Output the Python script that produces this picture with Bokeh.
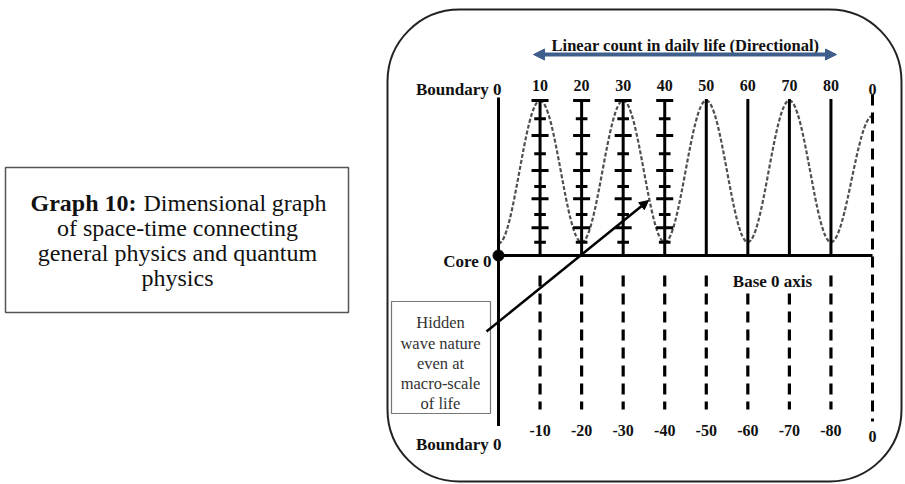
from bokeh.plotting import figure
from bokeh.models import Range1d, BoxAnnotation, Arrow, NormalHead
from bokeh.core.properties import value
from bokeh.embed import file_html
from bokeh.resources import INLINE

# ---------------- data ----------------
columns = [10, 20, 30, 40, 50, 60, 70, 80]           # count positions of the verticals
top_labels = ["10", "20", "30", "40", "50", "60", "70", "80"]
bottom_labels = ["-10", "-20", "-30", "-40", "-50", "-60", "-70", "-80"]
end_count = 90                                         # right-hand "0" boundary
tick_columns = [10, 20, 30, 40]                        # verticals carrying cross ticks
tick_levels = [10.0, 8.82, 7.74, 6.56, 5.48, 4.45, 3.66, 2.65, 1.79, 0.86]
tick_is_long = [True, False, True, False, True, False, True, False, True, False]
wave_counts = [0, 10, 20, 30, 40, 50, 60, 70, 80, 90]
wave_levels = [0.77, 10.0, 0.86, 10.0, 0.86, 10.0, 0.86, 10.0, 0.86, 9.0]
dash_start = [-1.29, -1.29, -1.29, -1.29, -1.29, -2.45, -2.45, -1.29]
dash_end = [-9.94] * 8
boundary_top, boundary_bottom = 10.2, -11.0
caption_lines = ["of space-time connecting", "general physics and quantum", "physics"]
hidden_lines = ["Hidden", "wave nature", "even at", "macro-scale", "of life"]

# ---------------- layout helpers (page px -> data units) ----------------
SX, SY = 4.1556, 15.5
OX, OY = 498.0, 255.0
def X(px):
    return (px - OX) / SX
def Y(py):
    return (OY - py) / SY

W, H = 904, 483
p = figure(width=W, height=H, x_range=Range1d(X(0), X(W)), y_range=Range1d(Y(H), Y(0)),
           output_backend="svg", toolbar_location=None, x_axis_type=None, y_axis_type=None,
           min_border=0, min_border_left=0, min_border_right=0, min_border_top=0, min_border_bottom=0)
p.grid.visible = False
p.outline_line_color = None
p.background_fill_color = "white"
p.border_fill_color = "white"

SERIF = value("Liberation Serif")

# rounded frame
p.add_layout(BoxAnnotation(left=X(387), right=X(901), top=Y(9), bottom=Y(481),
                           fill_color=None, fill_alpha=0, line_color="#222222", line_alpha=1.0,
                           line_width=2, border_radius=72))

# caption box
p.add_layout(BoxAnnotation(left=X(5), right=X(348), top=Y(167), bottom=Y(312),
                           fill_color=None, fill_alpha=0, line_color="#555555", line_alpha=1.0,
                           line_width=1.5))
cap = dict(text_font=SERIF, text_font_size="24px", text_baseline="alphabetic", text_color="#111111")
p.text(x=[X(30)], y=[Y(202)], text=["Graph 10:"], text_font_style="bold", text_align="left", **cap)
p.text(x=[X(143)], y=[Y(202)], text=["Dimensional"], text_align="left", **cap)
p.text(x=[X(326)], y=[Y(202)], text=["graph"], text_align="right", **cap)
p.text(x=[X(177)] * 3, y=[Y(227), Y(252), Y(277)], text=caption_lines, text_align="center", **cap)

# hidden wave box
p.add_layout(BoxAnnotation(left=X(391), right=X(490), top=Y(301), bottom=Y(413),
                           fill_color=None, fill_alpha=0, line_color="#777777", line_alpha=1.0,
                           line_width=1.2))
p.text(x=[X(440)] * 5, y=[Y(322), Y(343), Y(363), Y(383), Y(403)], text=hidden_lines,
       text_font=SERIF, text_font_size="16.5px", text_align="center", text_baseline="alphabetic",
       text_color="#333333")

# wave (bezier segments between extrema)
x0 = wave_counts[:-1]; x1 = wave_counts[1:]
y0 = wave_levels[:-1]; y1 = wave_levels[1:]
k = 0.3642
cx0 = [a + k * (b - a) for a, b in zip(x0, x1)]
cx1 = [b - k * (b - a) for a, b in zip(x0, x1)]
p.bezier(x0=x0, y0=y0, x1=x1, y1=y1, cx0=cx0, cy0=y0, cx1=cx1, cy1=y1,
         line_color="#505050", line_width=2.2, line_dash="4 2")

# boundary vertical and core axis
p.segment(x0=[0], y0=[boundary_top], x1=[0], y1=[boundary_bottom], line_color="black", line_width=3)
p.segment(x0=[0], y0=[0], x1=[end_count], y1=[0], line_color="black", line_width=3)

# solid verticals above the core
p.segment(x0=columns, y0=[0] * 8, x1=columns, y1=[10.1] * 8, line_color="black", line_width=3)

# dashed verticals below the core
p.segment(x0=columns, y0=dash_start, x1=columns, y1=dash_end, line_color="black",
          line_width=3.2, line_dash="11 7")

# right-hand dashed boundary
p.segment(x0=[end_count], y0=[Y(94)], x1=[end_count], y1=[Y(421)], line_color="black",
          line_width=3, line_dash="11 7")

# cross ticks
tx0, tx1, ty = [], [], []
for c in tick_columns:
    for lvl, lng in zip(tick_levels, tick_is_long):
        hw = 2.05 if lng else 1.4
        tx0.append(c - hw); tx1.append(c + hw); ty.append(lvl)
p.segment(x0=tx0, y0=ty, x1=tx1, y1=ty, line_color="black", line_width=3)

# core point
p.scatter(x=[0], y=[0], size=11, color="black")

# pointer arrow from the hidden-wave box
p.add_layout(Arrow(end=NormalHead(size=9, fill_color="black", line_color="black"),
                   x_start=X(486), y_start=Y(331), x_end=X(648), y_end=Y(200),
                   line_color="black", line_width=2.5))

# directional double arrow
blue = "#3F5E8C"
p.add_layout(Arrow(start=NormalHead(size=11, fill_color=blue, line_color=blue),
                   end=NormalHead(size=11, fill_color=blue, line_color=blue),
                   x_start=X(533), y_start=Y(54), x_end=X(836), y_end=Y(54),
                   line_color=blue, line_width=4))
p.text(x=[X(685)], y=[Y(45)], text=["Linear count in daily life (Directional)"], text_font=SERIF,
       text_font_style="bold", text_font_size="16.5px", text_align="center",
       text_baseline="alphabetic", text_color="#111111")

# labels
bold = dict(text_font=SERIF, text_font_style="bold", text_baseline="alphabetic", text_color="#111111")
p.text(x=columns, y=[Y(85)] * 8, text=top_labels, text_align="center", text_font_size="16px", **bold)
p.text(x=[end_count], y=[Y(89)], text=["0"], text_align="center", text_font_size="16px", **bold)
p.text(x=columns, y=[Y(430)] * 8, text=bottom_labels, text_align="center", text_font_size="16px", **bold)
p.text(x=[end_count], y=[Y(436)], text=["0"], text_align="center", text_font_size="16px", **bold)
p.text(x=[X(501)], y=[Y(89)], text=["Boundary 0"], text_align="right", text_font_size="17px", **bold)
p.text(x=[X(501)], y=[Y(444)], text=["Boundary 0"], text_align="right", text_font_size="17px", **bold)
p.text(x=[X(491)], y=[Y(261)], text=["Core 0"], text_align="right", text_font_size="17px", **bold)
p.text(x=[X(772)], y=[Y(281)], text=["Base 0 axis"], text_align="center", text_font_size="17px", **bold)

open("out.html", "w").write(file_html(p, INLINE))
